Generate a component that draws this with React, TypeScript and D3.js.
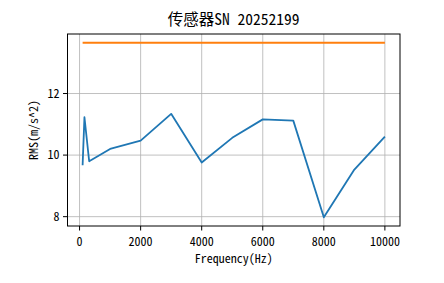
import React from "react";
import * as d3 from "d3";

const title = "传感器SN 20252199";
const xLabel = "Frequency(Hz)";
const yLabel = "RMS(m/s^2)";
const freqs = [100, 160, 315, 1000, 2000, 3000, 4000, 5000, 6000, 7000, 8000, 9000, 10000];
const rmsValues = [9.67, 11.23, 9.8, 10.2, 10.47, 11.34, 9.76, 10.56, 11.16, 11.12, 7.98, 9.53, 10.6];
const limitValue = 13.65;
const xTicks = [0, 2000, 4000, 6000, 8000, 10000];
const yTicks = [8, 10, 12];

const W = 444, H = 283;
const M = { left: 67.5, right: 400, top: 34, bottom: 226 };
const FONT = "SimHei, 'Noto Sans Mono CJK SC', 'Noto Sans CJK SC', sans-serif";

export default function App() {
  const xMin = d3.min(freqs)!, xMax = d3.max(freqs)!;
  const xPad = (xMax - xMin) * 0.05;
  const yMin = Math.min(d3.min(rmsValues)!, limitValue);
  const yMax = Math.max(d3.max(rmsValues)!, limitValue);
  const yPad = (yMax - yMin) * 0.05;
  const x = d3.scaleLinear().domain([xMin - xPad, xMax + xPad]).range([M.left, M.right]);
  const y = d3.scaleLinear().domain([yMin - yPad, yMax + yPad]).range([M.bottom, M.top]);
  const line = d3.line<number>().x((_, i) => x(freqs[i])).y((d) => y(d));
  const limitLine = d3.line<number>().x((d) => x(d)).y(() => y(limitValue));
  return (
    <svg width={W} height={H} style={{ position: "absolute", left: 0, top: 0 }} fontFamily={FONT}>
      <rect width={W} height={H} fill="#fff" />
      <g stroke="#b0b0b0" strokeWidth={0.8}>
        {xTicks.map((t) => (
          <line key={"gx" + t} x1={x(t)} x2={x(t)} y1={M.top} y2={M.bottom} />
        ))}
        {yTicks.map((t) => (
          <line key={"gy" + t} x1={M.left} x2={M.right} y1={y(t)} y2={y(t)} />
        ))}
      </g>
      <path d={line(rmsValues)!} fill="none" stroke="#1f77b4" strokeWidth={1.8} strokeLinejoin="round" />
      <path d={limitLine(freqs)!} fill="none" stroke="#ff7f0e" strokeWidth={1.8} />
      <rect x={M.left} y={M.top} width={M.right - M.left} height={M.bottom - M.top} fill="none" stroke="#000" strokeWidth={1} />
      {xTicks.map((t) => (
        <g key={"tx" + t}>
          <line x1={x(t)} x2={x(t)} y1={M.bottom} y2={M.bottom + 4.5} stroke="#000" strokeWidth={1} />
          <text x={x(t)} y={M.bottom + 19.5} textAnchor="middle" fontSize={12}>{t}</text>
        </g>
      ))}
      {yTicks.map((t) => (
        <g key={"ty" + t}>
          <line x1={M.left - 4.5} x2={M.left} y1={y(t)} y2={y(t)} stroke="#000" strokeWidth={1} />
          <text x={M.left - 8} y={y(t)} dy="0.35em" textAnchor="end" fontSize={12}>{t}</text>
        </g>
      ))}
      <text x={(M.left + M.right) / 2} y={263} textAnchor="middle" fontSize={12}>{xLabel}</text>
      <text transform={`translate(38,${(M.top + M.bottom) / 2}) rotate(-90)`} textAnchor="middle" fontSize={12}>{yLabel}</text>
      <text x={(M.left + M.right) / 2} y={25} textAnchor="middle" fontSize={15.5}>{title}</text>
    </svg>
  );
}
